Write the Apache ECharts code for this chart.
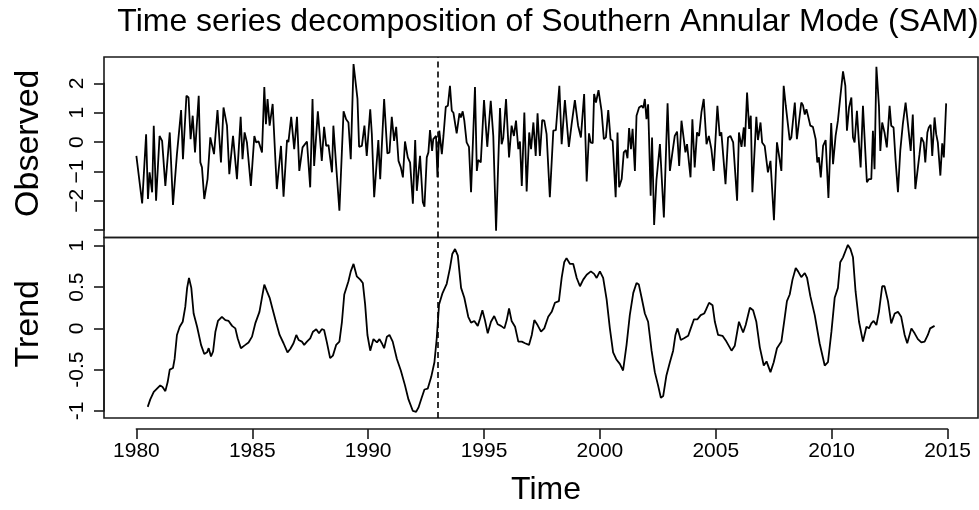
<!DOCTYPE html>
<html>
<head>
<meta charset="utf-8">
<script src="https://cdn.jsdelivr.net/npm/echarts@6/dist/echarts.min.js"></script>
<style>
html,body{margin:0;padding:0;background:#fff;}
#c{width:979px;height:510px;}
</style>
</head>
<body>
<div id="c"></div>
<script>
// ---------------- data ----------------
const obsYear = [
1980.00,1980.25,1980.42,1980.50,1980.57,1980.68,1980.75,1980.85,1981.00,1981.11,1981.25,1981.44,1981.58,1981.75,1981.93,
1982.01,1982.16,1982.25,1982.34,1982.43,1982.53,1982.69,1982.76,1982.83,1982.93,1983.07,1983.19,1983.26,1983.35,1983.50,
1983.65,1983.76,1983.91,1984.01,1984.17,1984.34,1984.50,1984.58,1984.67,1984.77,1984.84,1984.94,1985.09,1985.17,1985.27,
1985.42,1985.52,1985.59,1985.66,1985.75,1985.88,1986.06,1986.24,1986.35,1986.50,1986.56,1986.68,1986.81,1986.93,1987.03,
1987.17,1987.25,1987.36,1987.50,1987.60,1987.67,1987.83,1988.00,1988.10,1988.19,1988.29,1988.44,1988.50,1988.61,1988.68,
1988.76,1988.94,1989.05,1989.15,1989.25,1989.37,1989.54,1989.61,1989.73,1989.84,1989.94,1990.09,1990.16,1990.26,1990.34,
1990.44,1990.52,1990.69,1990.83,1990.92,1991.02,1991.12,1991.21,1991.31,1991.41,1991.50,1991.59,1991.71,1991.81,1991.93,
1992.03,1992.10,1992.24,1992.36,1992.43,1992.53,1992.60,1992.67,1992.76,1992.81,1992.93,1992.99,1993.07,1993.18,1993.25,
1993.35,1993.44,1993.53,1993.61,1993.68,1993.82,1993.94,1994.00,1994.08,1994.15,1994.25,1994.35,1994.44,1994.61,1994.69,
1994.75,1994.86,1995.00,1995.14,1995.29,1995.40,1995.52,1995.69,1995.76,1995.83,1995.95,1996.08,1996.19,1996.29,1996.38,
1996.48,1996.55,1996.63,1996.74,1996.84,1996.95,1997.03,1997.13,1997.23,1997.31,1997.41,1997.51,1997.60,1997.70,1997.84,
1997.99,1998.10,1998.25,1998.35,1998.49,1998.66,1998.78,1998.92,1999.06,1999.18,1999.32,1999.43,1999.53,1999.60,1999.69,
1999.75,1999.83,1999.94,2000.07,2000.17,2000.26,2000.36,2000.46,2000.55,2000.68,2000.76,2000.83,2000.94,2001.03,2001.12,
2001.19,2001.26,2001.34,2001.41,2001.51,2001.58,2001.69,2001.80,2001.87,2001.94,2002.01,2002.08,2002.19,2002.25,2002.34,
2002.44,2002.59,2002.76,2002.92,2003.02,2003.13,2003.23,2003.33,2003.42,2003.52,2003.59,2003.69,2003.76,2003.91,2003.99,
2004.09,2004.19,2004.28,2004.38,2004.48,2004.60,2004.70,2004.81,2004.91,2005.07,2005.17,2005.24,2005.42,2005.53,2005.63,
2005.75,2005.92,2006.00,2006.11,2006.21,2006.25,2006.35,2006.44,2006.51,2006.58,2006.75,2006.82,2006.93,2007.00,2007.11,
2007.25,2007.36,2007.51,2007.64,2007.76,2007.83,2007.93,2008.02,2008.09,2008.19,2008.26,2008.41,2008.50,2008.58,2008.69,
2008.76,2008.84,2008.91,2008.98,2009.08,2009.19,2009.31,2009.38,2009.45,2009.53,2009.63,2009.74,2009.86,2009.98,2010.06,
2010.17,2010.27,2010.37,2010.49,2010.59,2010.66,2010.75,2010.85,2010.92,2010.99,2011.09,2011.18,2011.25,2011.35,2011.42,
2011.52,2011.61,2011.71,2011.78,2011.85,2011.93,2012.04,2012.10,2012.18,2012.28,2012.38,2012.50,2012.57,2012.67,2012.76,
2012.86,2012.96,2013.07,2013.19,2013.29,2013.41,2013.50,2013.61,2013.69,2013.79,2013.87,2013.97,2014.04,2014.13,2014.19,
2014.27,2014.34,2014.44,2014.51,2014.58,2014.69,2014.77,2014.84,2014.94
];
const obsValue = [
-0.47,-2.09,0.27,-1.94,-1.03,-1.71,0.56,-2.00,0.21,0.04,-1.49,0.33,-2.14,-0.41,1.09,
-0.58,1.58,1.52,0.10,0.90,-0.35,1.58,-0.69,-0.86,-1.94,-1.26,0.16,0.14,-0.41,1.09,
-0.69,1.18,0.56,-1.09,0.21,-1.26,0.86,-0.58,0.33,-0.01,-0.04,-1.49,0.21,-0.01,0.03,
-0.35,1.88,0.61,1.47,0.56,1.30,-1.60,-0.13,-1.86,0.07,0.00,0.86,-0.24,0.86,-0.98,
-0.18,-0.24,0.02,-1.54,1.47,-0.81,1.05,-0.64,0.52,-0.13,-0.10,-1.03,0.56,-0.69,-0.75,
-2.34,1.05,0.78,0.67,-0.58,2.66,1.47,-0.16,-0.13,0.56,-0.47,1.12,0.27,-1.88,-1.83,
0.07,-1.26,1.47,-0.39,-0.35,0.86,0.04,0.52,-0.64,-0.86,-1.20,0.02,-0.52,-0.70,-2.10,
0.07,-1.66,-0.47,-2.05,-2.20,-0.52,-0.35,0.41,-0.30,0.10,0.21,-1.20,0.39,-0.41,0.21,
1.20,1.24,1.92,1.07,1.00,0.30,0.98,0.84,1.05,0.73,-0.01,-0.16,-1.71,1.88,-0.98,
-0.61,-0.69,1.43,-0.16,1.41,0.21,-3.02,1.16,-0.07,0.14,1.47,-0.52,0.56,0.21,0.73,
-0.24,0.02,-1.49,1.01,-1.68,0.33,-0.24,0.67,-0.47,0.98,-0.47,0.75,0.73,0.27,-1.88,
0.39,0.41,1.92,-0.07,1.43,-0.16,0.61,1.43,0.56,0.16,1.64,-1.34,0.30,-0.01,-0.04,
1.64,1.35,1.77,1.07,0.10,0.16,1.09,0.10,0.04,-1.88,0.33,-1.54,-1.26,-0.35,-0.27,
-0.55,0.48,-0.24,0.45,-0.98,0.90,1.18,1.24,1.16,1.47,0.78,1.29,-1.83,0.16,-2.82,
-1.29,-0.07,-2.57,1.32,-0.98,-0.35,0.21,0.36,-0.81,0.73,0.69,-0.35,-0.07,-1.20,0.78,
-0.86,0.33,0.21,1.01,1.47,-0.07,0.21,-0.24,-0.98,1.24,0.21,0.33,-1.43,0.16,0.21,
-0.01,-2.00,0.33,-0.16,0.50,-0.16,1.69,0.45,0.90,-1.71,0.86,0.07,0.67,-0.01,-0.13,
-1.03,-0.64,-2.66,-0.01,-0.61,-0.98,1.92,1.24,1.18,0.07,0.16,1.35,0.10,0.07,1.35,
1.26,0.94,1.12,0.90,0.56,0.52,0.10,-0.69,-0.52,-1.20,-0.13,0.07,-1.90,0.65,-0.75,
0.21,0.73,1.52,2.41,1.92,0.39,1.18,1.52,0.16,-0.01,1.07,-0.07,-0.86,1.24,0.16,
-1.37,-1.26,-1.26,0.39,-0.92,2.57,1.24,-0.30,0.67,0.33,-0.18,1.24,0.56,0.50,-0.64,
-1.71,-0.30,0.61,1.35,0.61,-0.30,0.94,-1.60,-1.66,-0.41,0.16,-0.01,-0.69,0.33,0.50,
0.59,-0.47,0.84,0.27,-0.01,-1.14,-0.04,-0.52,1.32
];
const trendYear = [
1980.49,1980.60,1980.75,1980.89,1981.03,1981.13,1981.25,1981.35,1981.44,1981.58,1981.65,1981.75,1981.87,1982.00,1982.11,
1982.19,1982.27,1982.37,1982.47,1982.62,1982.79,1982.93,1983.05,1983.12,1983.22,1983.31,1983.41,1983.52,1983.69,1983.84,
1983.98,1984.13,1984.27,1984.37,1984.51,1984.70,1984.84,1984.99,1985.13,1985.31,1985.43,1985.52,1985.63,1985.75,1985.89,
1986.03,1986.18,1986.35,1986.52,1986.64,1986.78,1986.90,1987.00,1987.14,1987.24,1987.36,1987.50,1987.62,1987.76,1987.88,
1988.00,1988.10,1988.22,1988.36,1988.48,1988.62,1988.76,1988.87,1988.97,1989.15,1989.25,1989.37,1989.51,1989.66,1989.77,
1989.87,1989.97,1990.09,1990.23,1990.38,1990.49,1990.59,1990.69,1990.81,1990.92,1991.06,1991.24,1991.41,1991.59,1991.74,
1991.93,1992.07,1992.17,1992.31,1992.43,1992.57,1992.72,1992.86,1992.96,1993.06,1993.20,1993.39,1993.53,1993.63,1993.75,
1993.87,1994.01,1994.15,1994.32,1994.44,1994.58,1994.73,1994.83,1994.93,1995.04,1995.16,1995.30,1995.44,1995.59,1995.73,
1995.88,1995.98,1996.08,1996.19,1996.34,1996.48,1996.63,1996.77,1996.94,1997.06,1997.17,1997.31,1997.46,1997.60,1997.77,
1997.92,1998.06,1998.23,1998.35,1998.46,1998.56,1998.71,1998.85,1999.00,1999.14,1999.28,1999.43,1999.61,1999.75,1999.86,
2000.00,2000.14,2000.29,2000.43,2000.57,2000.72,2000.86,2001.00,2001.15,2001.29,2001.44,2001.58,2001.68,2001.80,2001.94,
2002.08,2002.23,2002.37,2002.51,2002.63,2002.73,2002.87,2003.02,2003.16,2003.26,2003.35,2003.49,2003.63,2003.81,2003.92,
2004.06,2004.21,2004.35,2004.50,2004.57,2004.71,2004.86,2004.96,2005.10,2005.29,2005.46,2005.68,2005.82,2006.00,2006.18,
2006.29,2006.47,2006.61,2006.75,2006.90,2007.07,2007.19,2007.36,2007.50,2007.64,2007.83,2007.97,2008.07,2008.19,2008.31,
2008.45,2008.55,2008.69,2008.84,2008.94,2009.08,2009.27,2009.48,2009.70,2009.84,2009.99,2010.13,2010.27,2010.37,2010.49,
2010.60,2010.70,2010.81,2010.92,2011.03,2011.18,2011.35,2011.50,2011.61,2011.71,2011.81,2011.93,2012.04,2012.18,2012.28,
2012.43,2012.57,2012.72,2012.86,2013.00,2013.15,2013.26,2013.44,2013.58,2013.72,2013.87,2014.01,2014.15,2014.25,2014.44
];
const trendValue = [
-0.95,-0.86,-0.77,-0.73,-0.69,-0.71,-0.76,-0.65,-0.50,-0.48,-0.37,-0.08,0.02,0.08,0.26,
0.49,0.61,0.49,0.18,0.02,-0.20,-0.31,-0.29,-0.24,-0.34,-0.28,-0.04,0.09,0.14,0.10,
0.09,0.03,0.00,-0.12,-0.24,-0.20,-0.17,-0.10,0.06,0.20,0.39,0.53,0.45,0.37,0.22,
0.07,-0.08,-0.18,-0.29,-0.25,-0.18,-0.08,-0.14,-0.16,-0.20,-0.16,-0.12,-0.04,-0.01,-0.06,
-0.01,-0.02,-0.17,-0.36,-0.33,-0.20,-0.16,0.08,0.41,0.57,0.69,0.78,0.63,0.59,0.55,
0.29,-0.08,-0.27,-0.13,-0.17,-0.13,-0.18,-0.24,-0.10,-0.08,-0.16,-0.37,-0.51,-0.69,-0.86,
-1.00,-1.01,-0.96,-0.84,-0.74,-0.73,-0.59,-0.41,-0.12,0.29,0.42,0.54,0.73,0.90,0.96,
0.88,0.49,0.37,0.14,0.07,0.09,0.03,0.12,0.22,0.10,-0.06,0.08,0.15,0.05,0.03,
0.00,0.10,0.24,0.09,0.02,-0.16,-0.16,-0.18,-0.20,-0.08,0.10,0.04,-0.04,0.00,0.14,
0.20,0.31,0.33,0.61,0.80,0.85,0.78,0.78,0.61,0.51,0.59,0.65,0.69,0.66,0.61,
0.69,0.61,0.35,0.00,-0.29,-0.38,-0.43,-0.51,-0.20,0.16,0.43,0.55,0.53,0.37,0.18,
0.08,-0.27,-0.53,-0.69,-0.84,-0.82,-0.57,-0.41,-0.27,-0.08,0.00,-0.14,-0.12,-0.09,0.00,
0.11,0.11,0.16,0.18,0.22,0.31,0.28,0.08,-0.08,-0.09,-0.16,-0.27,-0.21,0.08,-0.05,
0.04,0.25,0.22,0.08,-0.23,-0.45,-0.40,-0.53,-0.41,-0.24,-0.16,0.12,0.33,0.41,0.59,
0.73,0.69,0.62,0.67,0.61,0.39,0.16,-0.18,-0.45,-0.41,-0.04,0.37,0.49,0.80,0.86,
0.94,1.01,0.96,0.86,0.45,0.08,-0.16,0.02,0.00,0.06,0.09,0.04,0.20,0.51,0.51,
0.33,0.06,0.18,0.20,0.14,-0.08,-0.18,0.00,-0.06,-0.13,-0.17,-0.16,-0.08,0.00,0.03
];
const xTickYears = [1980, 2015];      // first / last labelled year, step 5
const xTickStep = 5;
const obsTicks = [-3, 2];             // observed axis tick range, step 1
const trendTicks = [-1, 1];           // trend axis tick range, step 0.5
const breakYear = 1993;
const titleText = 'Time series decomposition of Southern Annular Mode (SAM)';

// ---------------- layout ----------------
const FONT = "'Liberation Sans', Arial, Helvetica, sans-serif";
const plotLeft = 104, plotWidth = 874;
const xMin = 1978.603, xMax = 2016.314;
const obsTop = 57, panelH = 180.5, trTop = obsTop + panelH;
const obsMin = -3.25, obsMax = 2.9;
const trMin = -1.085, trMax = 1.10;
const px = v => plotLeft + (v - xMin) / (xMax - xMin) * plotWidth;
const pyObs = v => obsTop + (obsMax - v) / (obsMax - obsMin) * panelH;
const pyTr = v => trTop + (trMax - v) / (trMax - trMin) * panelH;
const axisY = 429;

const chart = echarts.init(document.getElementById('c'), null, {renderer: 'canvas'});
const borderCol = '#1a1a1a';
const hiddenX = i => ({gridIndex: i, type: 'value', min: xMin, max: xMax, show: false});
const axLine = {show: true, lineStyle: {color: borderCol, width: 1.6}};
const axTick = {show: true, inside: false, length: 10, lineStyle: {color: borderCol, width: 1.6}};

const option = {
  animation: false,
  backgroundColor: '#fff',
  grid: [
    {left: plotLeft, top: obsTop, width: plotWidth, height: panelH, show: true, borderColor: borderCol, borderWidth: 1.6, backgroundColor: 'transparent'},
    {left: plotLeft, top: trTop, width: plotWidth, height: panelH, show: true, borderColor: borderCol, borderWidth: 1.6, backgroundColor: 'transparent'},
    {left: plotLeft, width: plotWidth, top: pyObs(obsTicks[1]), height: pyObs(obsTicks[0]) - pyObs(obsTicks[1])},
    {left: plotLeft, width: plotWidth, top: pyTr(trendTicks[1]), height: pyTr(trendTicks[0]) - pyTr(trendTicks[1])},
    {left: px(xTickYears[0]), width: px(xTickYears[1]) - px(xTickYears[0]), top: axisY - 1, height: 1}
  ],
  xAxis: [
    hiddenX(0), hiddenX(1), hiddenX(2), hiddenX(3),
    {gridIndex: 4, type: 'value', min: xTickYears[0], max: xTickYears[1], interval: xTickStep, position: 'bottom',
     axisLine: axLine, axisTick: axTick, splitLine: {show: false},
     axisLabel: {show: true, margin: 12, fontSize: 21, color: '#000', fontFamily: FONT, formatter: v => String(v)}}
  ],
  yAxis: [
    {gridIndex: 0, type: 'value', min: obsMin, max: obsMax, show: false},
    {gridIndex: 1, type: 'value', min: trMin, max: trMax, show: false},
    {gridIndex: 2, type: 'value', min: obsTicks[0], max: obsTicks[1], interval: 1, position: 'left',
     axisLine: axLine, axisTick: axTick, splitLine: {show: false},
     axisLabel: {show: true, rotate: 90, margin: 16, fontSize: 21, color: '#000', fontFamily: FONT,
       formatter: v => (v === obsTicks[0] ? '' : String(v).replace('-', '\u2212'))}},
    {gridIndex: 3, type: 'value', min: trendTicks[0], max: trendTicks[1], interval: 0.5, position: 'left',
     axisLine: axLine, axisTick: axTick, splitLine: {show: false},
     axisLabel: {show: true, rotate: 90, margin: 16, fontSize: 21, color: '#000', fontFamily: FONT,
       formatter: v => String(v)}},
    {gridIndex: 4, type: 'value', min: 0, max: 1, show: false}
  ],
  graphic: [
    {type: 'text', x: 548, y: 22, style: {text: titleText, font: '32px ' + FONT, fill: '#000', textAlign: 'center', textVerticalAlign: 'middle'}},
    {type: 'text', x: 29, y: obsTop + panelH / 2 - 4, rotation: Math.PI / 2, style: {text: 'Observed', font: '34px ' + FONT, fill: '#000', textAlign: 'center', textVerticalAlign: 'middle'}},
    {type: 'text', x: 29, y: trTop + panelH / 2 - 4, rotation: Math.PI / 2, style: {text: 'Trend', font: '34px ' + FONT, fill: '#000', textAlign: 'center', textVerticalAlign: 'middle'}},
    {type: 'text', x: 546, y: 490, style: {text: 'Time', font: '32px ' + FONT, fill: '#000', textAlign: 'center', textVerticalAlign: 'middle'}}
  ],
  series: [
    {type: 'line', xAxisIndex: 0, yAxisIndex: 0, data: obsYear.map((t, i) => [t, obsValue[i]]),
     showSymbol: false, symbol: 'none', lineStyle: {color: '#000', width: 1.8}, silent: true,
     markLine: {silent: true, symbol: ['none', 'none'], label: {show: false},
       lineStyle: {color: '#000', type: [6, 4], width: 1.6}, data: [{xAxis: breakYear}]}},
    {type: 'line', xAxisIndex: 1, yAxisIndex: 1, data: trendYear.map((t, i) => [t, trendValue[i]]),
     showSymbol: false, symbol: 'none', lineStyle: {color: '#000', width: 1.8}, silent: true,
     markLine: {silent: true, symbol: ['none', 'none'], label: {show: false},
       lineStyle: {color: '#000', type: [6, 4], width: 1.6}, data: [{xAxis: breakYear}]}}
  ]
};
chart.setOption(option);
</script>
</body>
</html>
